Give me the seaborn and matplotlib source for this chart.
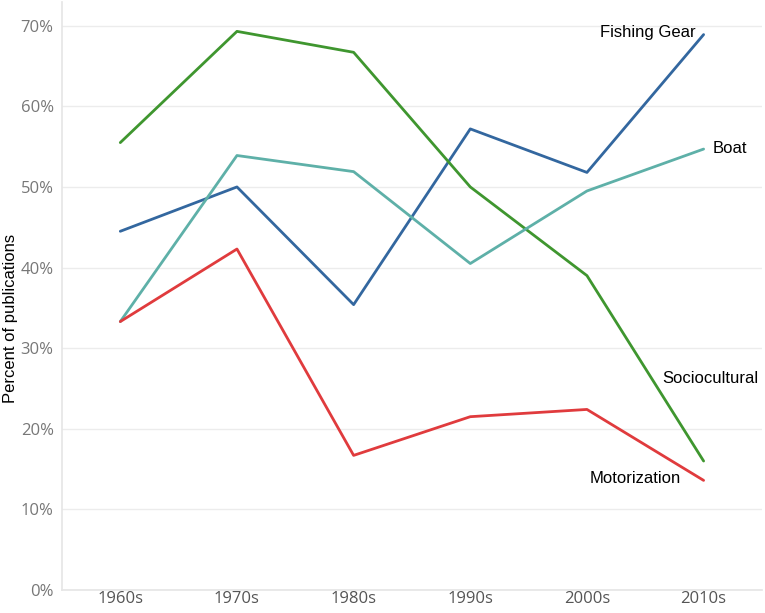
import matplotlib
matplotlib.use("Agg")
import matplotlib.pyplot as plt
import seaborn as sns
import pandas as pd
from matplotlib.ticker import FuncFormatter

decades = ["1960s", "1970s", "1980s", "1990s", "2000s", "2010s"]
fishing_gear = [44.5, 50.0, 35.4, 57.2, 51.8, 68.9]
sociocultural = [55.5, 69.3, 66.7, 50.0, 39.0, 16.0]
boat = [33.3, 53.9, 51.9, 40.5, 49.5, 54.7]
motorization = [33.3, 42.3, 16.7, 21.5, 22.4, 13.6]

series = {
    "Fishing Gear": fishing_gear,
    "Sociocultural": sociocultural,
    "Boat": boat,
    "Motorization": motorization,
}
colors = {
    "Fishing Gear": "#33679f",
    "Sociocultural": "#3f962f",
    "Boat": "#5eb0a8",
    "Motorization": "#e03b3d",
}

rows = []
for name, vals in series.items():
    for d, v in zip(decades, vals):
        rows.append({"Decade": d, "Percent": v, "Topic": name})
df = pd.DataFrame(rows)

sns.set_theme(style="white")
plt.rcParams["font.family"] = ["Open Sans", "DejaVu Sans"]

fig = plt.figure(figsize=(7.65, 6.13), dpi=100)
ax = fig.add_axes([0.081, 0.0375, 0.915, 0.96])

sns.lineplot(data=df, x="Decade", y="Percent", hue="Topic", palette=colors,
             linewidth=2.0, ax=ax, legend=False, sort=False)

ax.set_xlim(-0.5, len(decades) - 0.5)
ax.set_ylim(0, 73)
ax.set_yticks([0, 10, 20, 30, 40, 50, 60, 70])
ax.yaxis.set_major_formatter(FuncFormatter(lambda v, p: f"{int(v)}%"))
ax.grid(axis="y", color="#ececec", linewidth=1)
ax.set_axisbelow(True)

for s in ["top", "right"]:
    ax.spines[s].set_visible(False)
ax.spines["left"].set_color("#e6e6e6")
ax.spines["bottom"].set_color("#e6e6e6")

ax.set_xticks(range(len(decades)))
ax.set_xticklabels(decades)
ax.tick_params(axis="x", length=0, pad=1, labelsize=12, labelcolor="#555555")
ax.tick_params(axis="y", length=0, pad=6, labelsize=12, labelcolor="#777777")
# category separators
ax.set_xticks([i - 0.5 for i in range(len(decades) + 1)], minor=True)
ax.tick_params(axis="x", which="minor", length=5, color="#e6e6e6", width=1)

ax.set_xlabel("")
ax.set_ylabel("")
fig.text(0.014, 0.48, "Percent of publications", rotation=90, ha="center", va="center",
         fontsize=12, color="black", family=["Liberation Sans", "DejaVu Sans"])

lab_font = dict(fontsize=12, color="black", family=["Liberation Sans", "DejaVu Sans"])
ax.text(4.93, fishing_gear[-1] + 0.2, "Fishing Gear", ha="right", va="center", **lab_font)
ax.text(5.08, boat[-1] + 0.1, "Boat", ha="left", va="center", **lab_font)
ax.text(4.65, 26.2, "Sociocultural", ha="left", va="center", **lab_font)
ax.text(4.02, 13.8, "Motorization", ha="left", va="center", **lab_font)

fig.savefig("out.png", dpi=100)
